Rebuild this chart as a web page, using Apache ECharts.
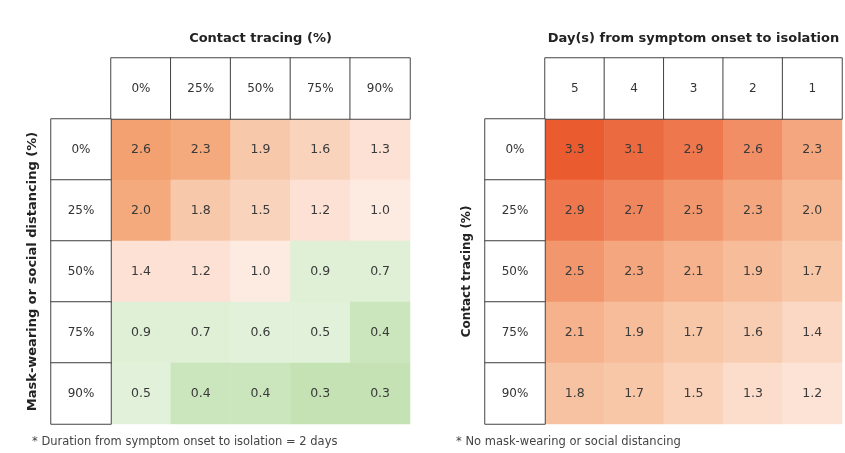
<!DOCTYPE html>
<html>
<head>
<meta charset="utf-8">
<script src="https://cdn.jsdelivr.net/npm/echarts@6/dist/echarts.min.js"></script>
<style>
  html, body { margin: 0; padding: 0; background: #fff; }
  #chart { width: 845px; height: 453px; }
</style>
</head>
<body>
<div id="chart"></div>
<script>
// left panel: contact tracing (cols) x mask-wearing (rows)
const leftCols = ['0%', '25%', '50%', '75%', '90%'];
const leftRows = ['0%', '25%', '50%', '75%', '90%'];
const leftValues = [
  [2.6, 2.3, 1.9, 1.6, 1.3],
  [2.0, 1.8, 1.5, 1.2, 1.0],
  [1.4, 1.2, 1.0, 0.9, 0.7],
  [0.9, 0.7, 0.6, 0.5, 0.4],
  [0.5, 0.4, 0.4, 0.3, 0.3],
];

// right panel: days to isolation (cols) x contact tracing (rows)
const rightCols = ['5', '4', '3', '2', '1'];
const rightRows = ['0%', '25%', '50%', '75%', '90%'];
const rightValues = [
  [3.3, 3.1, 2.9, 2.6, 2.3],
  [2.9, 2.7, 2.5, 2.3, 2.0],
  [2.5, 2.3, 2.1, 1.9, 1.7],
  [2.1, 1.9, 1.7, 1.6, 1.4],
  [1.8, 1.7, 1.5, 1.3, 1.2],
];

const FONT = 'DejaVu Sans';
const chart = echarts.init(document.getElementById('chart'));

const toCells = (rows) => {
  const out = [];
  rows.forEach((r, ri) => r.forEach((v, ci) => out.push([ci, ri, v])));
  return out;
};

const hidden = { show: false };
const catAxis = (gridIndex, data, extra) => Object.assign({
  type: 'category', gridIndex, data,
  axisLine: hidden, axisTick: hidden, axisLabel: hidden, splitLine: hidden,
}, extra || {});

const boxItem = { color: '#fff', borderColor: '#444', borderWidth: 1 };
const boxLabel = (names) => ({
  show: true, color: '#333', fontSize: 12, fontFamily: FONT,
  formatter: (p) => names[p.value[0] + p.value[1]],
});
const valueLabel = {
  show: true, color: '#3a3a3a', fontSize: 12.5, fontFamily: FONT,
  formatter: (p) => p.value[2].toFixed(1),
};
const nameStyle = { color: '#222', fontSize: 13, fontWeight: 'bold', fontFamily: FONT };
const noteStyle = { color: '#444', fontSize: 11.5, fontWeight: 'normal', fontFamily: FONT };

chart.setOption({
  backgroundColor: '#fff',
  animation: false,
  title: [
    { text: '* Duration from symptom onset to isolation = 2 days', left: 27, top: 431, textStyle: noteStyle },
    { text: '* No mask-wearing or social distancing', left: 451, top: 431, textStyle: noteStyle },
  ],
  grid: [
    { left: 111, top: 119, width: 299, height: 305 }, // 0 left data
    { left: 111, top: 58, width: 299, height: 61 },   // 1 left header
    { left: 51, top: 119, width: 60, height: 305 },   // 2 left row labels
    { left: 545, top: 119, width: 297, height: 305 }, // 3 right data
    { left: 545, top: 58, width: 297, height: 61 },   // 4 right header
    { left: 485, top: 119, width: 60, height: 305 },  // 5 right row labels
  ],
  xAxis: [
    catAxis(0, leftCols),
    catAxis(1, leftCols, { position: 'top', name: 'Contact tracing (%)', nameLocation: 'middle', nameGap: 13, nameTextStyle: nameStyle }),
    catAxis(2, ['r']),
    catAxis(3, rightCols),
    catAxis(4, rightCols, { position: 'top', name: 'Day(s) from symptom onset to isolation', nameLocation: 'middle', nameGap: 13, nameTextStyle: nameStyle }),
    catAxis(5, ['r']),
  ],
  yAxis: [
    catAxis(0, leftRows, { inverse: true }),
    catAxis(1, ['h']),
    catAxis(2, leftRows, { inverse: true, name: 'Mask-wearing or social distancing (%)', nameLocation: 'middle', nameRotate: 90, nameGap: 12, nameTextStyle: nameStyle }),
    catAxis(3, rightRows, { inverse: true }),
    catAxis(4, ['h']),
    catAxis(5, rightRows, { inverse: true, name: 'Contact tracing (%)', nameLocation: 'middle', nameRotate: 90, nameGap: 12,
      nameTextStyle: Object.assign({}, nameStyle, { fontSize: 12 }) }),
  ],
  visualMap: [
    {
      type: 'piecewise', show: false, seriesIndex: 0, dimension: 2,
      pieces: [
        { lte: 0.35, color: '#c4e2b3' },
        { gt: 0.35, lte: 0.45, color: '#cbe6bc' },
        { gt: 0.45, lte: 0.65, color: '#e2f2da' },
        { gt: 0.65, lte: 0.95, color: '#dff0d6' },
        { gt: 0.95, lte: 1.05, color: '#fdebe2' },
        { gt: 1.05, lte: 1.45, color: '#fce1d4' },
        { gt: 1.45, lte: 1.75, color: '#fad3bd' },
        { gt: 1.75, lte: 1.95, color: '#f8c8ab' },
        { gt: 1.95, lte: 2.45, color: '#f4aa7d' },
        { gt: 2.45, color: '#f3a171' },
      ],
    },
    {
      type: 'continuous', show: false, seriesIndex: 3, dimension: 2,
      min: 1.2, max: 3.3,
      inRange: { color: ['#fde3d5', '#f8c6a6', '#f4aa82', '#ef8058', '#ea5c30'] },
    },
  ],
  series: [
    { type: 'heatmap', xAxisIndex: 0, yAxisIndex: 0, data: toCells(leftValues), label: valueLabel },
    { type: 'heatmap', xAxisIndex: 1, yAxisIndex: 1, data: leftCols.map((c, i) => [i, 0, 0]),
      itemStyle: boxItem, label: boxLabel(leftCols) },
    { type: 'heatmap', xAxisIndex: 2, yAxisIndex: 2, data: leftRows.map((r, i) => [0, i, 0]),
      itemStyle: boxItem, label: boxLabel(leftRows) },
    { type: 'heatmap', xAxisIndex: 3, yAxisIndex: 3, data: toCells(rightValues), label: valueLabel },
    { type: 'heatmap', xAxisIndex: 4, yAxisIndex: 4, data: rightCols.map((c, i) => [i, 0, 0]),
      itemStyle: boxItem, label: boxLabel(rightCols) },
    { type: 'heatmap', xAxisIndex: 5, yAxisIndex: 5, data: rightRows.map((r, i) => [0, i, 0]),
      itemStyle: boxItem, label: boxLabel(rightRows) },
  ],
});

window.addEventListener('resize', () => chart.resize());
</script>
</body>
</html>
